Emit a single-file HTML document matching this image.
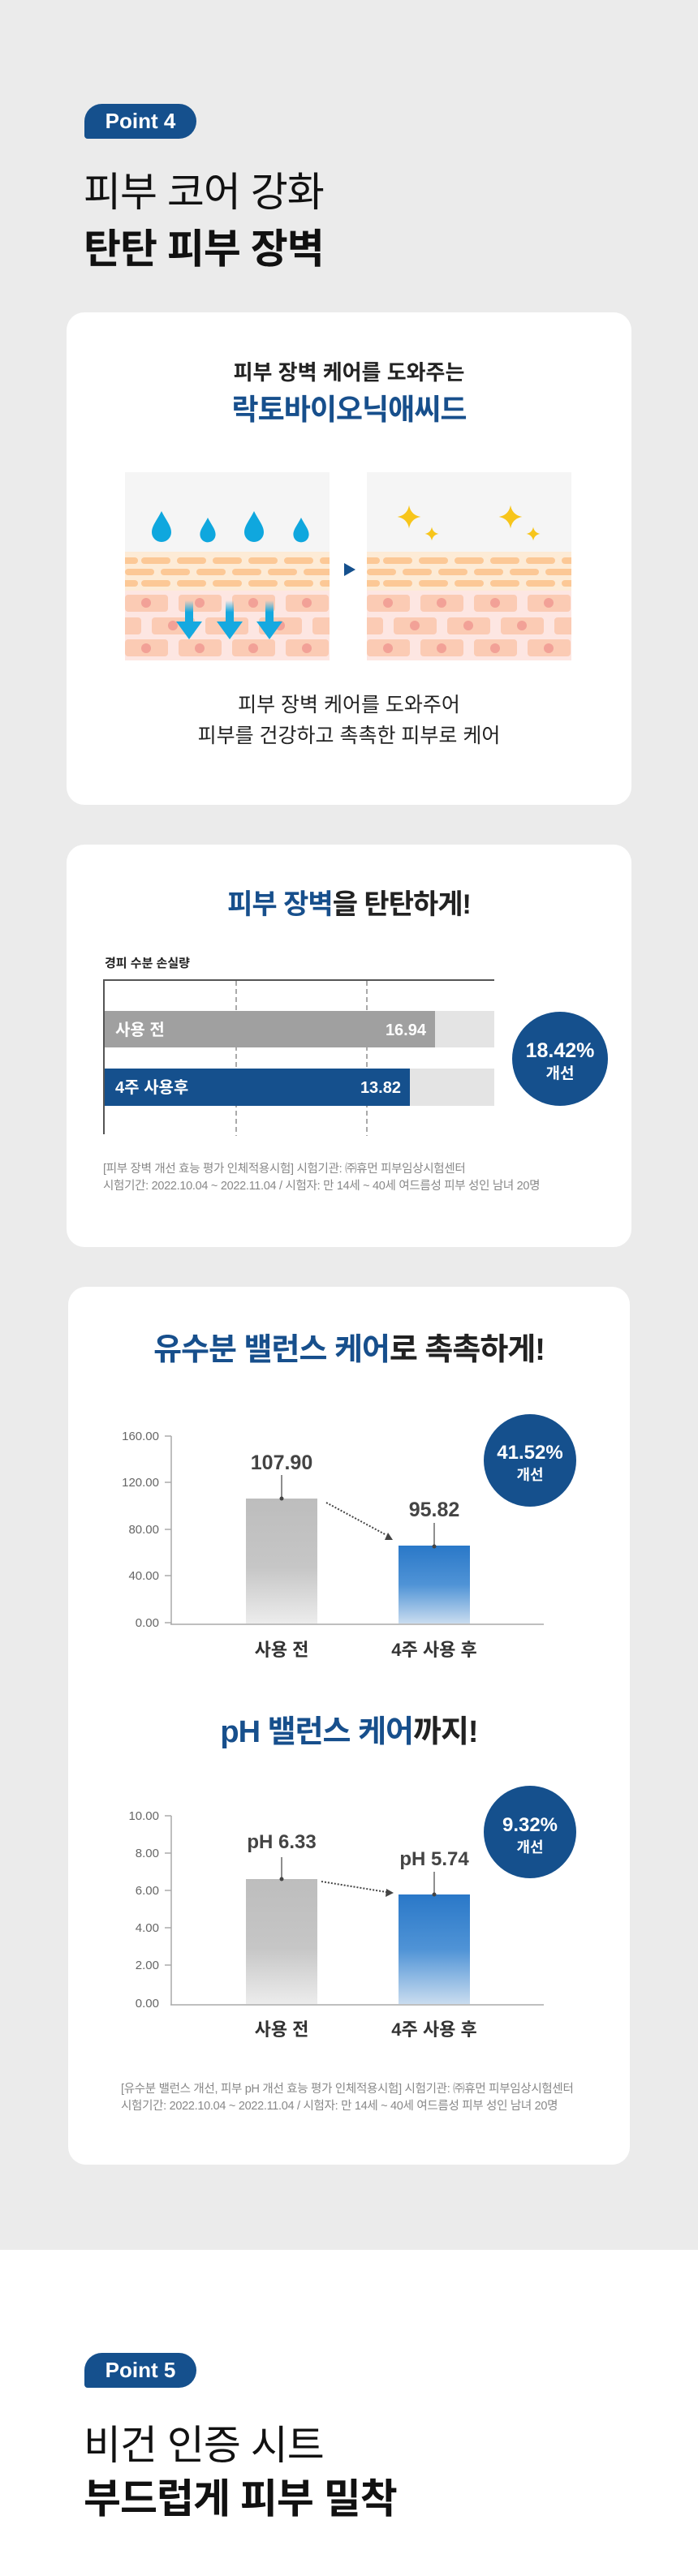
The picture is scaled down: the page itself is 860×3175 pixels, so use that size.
<!DOCTYPE html>
<html><head><meta charset="utf-8">
<style>
*{margin:0;padding:0;box-sizing:border-box}
body{width:860px;height:3175px;background:#fff;font-family:"Liberation Sans","Noto Sans CJK KR",sans-serif;position:relative;overflow:hidden;color:#111}
.gray{position:absolute;left:0;top:0;width:860px;height:2773px;background:#ebebeb}
.abs{position:absolute}
.badge{position:absolute;left:104px;width:138px;height:43px;background:#15508d;border-radius:22px 22px 22px 4px;color:#fff;font-weight:bold;font-size:26px;line-height:43px;text-align:center}
.h1{position:absolute;left:103px;font-size:50px;line-height:60px;letter-spacing:-1px;color:#111}
.card{position:absolute;background:#fff;border-radius:22px}
.c{position:absolute;left:0;width:100%;text-align:center}
.foot{position:absolute;font-size:14.5px;color:#888;line-height:21px;letter-spacing:-0.3px;white-space:nowrap}
</style></head><body>
<div class="gray"></div>

<div class="badge" style="top:128px">Point 4</div>
<div class="h1" style="top:207px">피부 코어 강화</div>
<div class="h1" style="top:277px;font-weight:bold">탄탄 피부 장벽</div>

<!-- card 1 -->
<div class="card" style="left:82px;top:385px;width:696px;height:607px">
  <div class="c" style="top:56px;font-size:26px;line-height:36px;font-weight:bold;color:#222">피부 장벽 케어를 도와주는</div>
  <div class="c" style="top:97px;font-size:36px;line-height:46px;font-weight:bold;color:#174f8c;letter-spacing:-1px">락토바이오닉애씨드</div>
  <div class="c" style="top:465px;font-size:25px;line-height:38px;color:#222">피부 장벽 케어를 도와주어<br>피부를 건강하고 촉촉한 피부로 케어</div>
</div>

<svg class="abs" style="left:154px;top:582px" width="552" height="232" viewBox="0 0 552 232">
<defs>
<clipPath id="cp"><rect x="0" y="0" width="252" height="232"/></clipPath>
<g id="skin"><g clip-path="url(#cp)">
 <rect x="0" y="0" width="252" height="232" fill="#f5f5f5"/>
 <rect x="0" y="98" width="252" height="48" fill="#fdebd6"/>
 <g fill="#fcc896">
  <rect x="-20" y="105" width="36" height="8" rx="4"/><rect x="20" y="105" width="36" height="8" rx="4"/><rect x="64" y="105" width="36" height="8" rx="4"/><rect x="108" y="105" width="36" height="8" rx="4"/><rect x="152" y="105" width="36" height="8" rx="4"/><rect x="196" y="105" width="36" height="8" rx="4"/><rect x="240" y="105" width="36" height="8" rx="4"/>
  <rect x="0" y="119" width="36" height="8" rx="4"/><rect x="44" y="119" width="36" height="8" rx="4"/><rect x="88" y="119" width="36" height="8" rx="4"/><rect x="132" y="119" width="36" height="8" rx="4"/><rect x="176" y="119" width="36" height="8" rx="4"/><rect x="220" y="119" width="36" height="8" rx="4"/>
  <rect x="-20" y="133" width="36" height="8" rx="4"/><rect x="20" y="133" width="36" height="8" rx="4"/><rect x="64" y="133" width="36" height="8" rx="4"/><rect x="108" y="133" width="36" height="8" rx="4"/><rect x="152" y="133" width="36" height="8" rx="4"/><rect x="196" y="133" width="36" height="8" rx="4"/><rect x="240" y="133" width="36" height="8" rx="4"/>
 </g>
 <rect x="0" y="146" width="252" height="86" fill="#fde6e2"/>
 <g fill="#fbcbb4">
  <rect x="0" y="151" width="53" height="21" rx="4"/><rect x="66" y="151" width="53" height="21" rx="4"/><rect x="132" y="151" width="53" height="21" rx="4"/><rect x="198" y="151" width="53" height="21" rx="4"/>
  <rect x="-33" y="179" width="53" height="21" rx="4"/><rect x="33" y="179" width="53" height="21" rx="4"/><rect x="99" y="179" width="53" height="21" rx="4"/><rect x="165" y="179" width="53" height="21" rx="4"/><rect x="231" y="179" width="53" height="21" rx="4"/>
  <rect x="0" y="206" width="53" height="21" rx="4"/><rect x="66" y="206" width="53" height="21" rx="4"/><rect x="132" y="206" width="53" height="21" rx="4"/><rect x="198" y="206" width="53" height="21" rx="4"/>
 </g>
 <g fill="#f2a197">
  <circle cx="26" cy="161" r="6"/><circle cx="92" cy="161" r="6"/><circle cx="158" cy="161" r="6"/><circle cx="224" cy="161" r="6"/>
  <circle cx="59" cy="189" r="6"/><circle cx="125" cy="189" r="6"/><circle cx="191" cy="189" r="6"/>
  <circle cx="26" cy="217" r="6"/><circle cx="92" cy="217" r="6"/><circle cx="158" cy="217" r="6"/><circle cx="224" cy="217" r="6"/>
 </g>
</g></g>
<linearGradient id="ar" x1="0" y1="0" x2="0" y2="1"><stop offset="0" stop-color="#15a9e0" stop-opacity="0"/><stop offset="0.3" stop-color="#15a9e0"/></linearGradient>
<path id="drop" d="M0,-20 C6,-8 12,-2 12,6 A12,12 0 0 1 -12,6 C-12,-2 -6,-8 0,-20Z" fill="#0fa7de"/>
<path id="arrow" d="M-5,0 H5 V26 H16 L0,48 L-16,26 H-5Z" fill="url(#ar)"/>
<path id="star" d="M0,-13 Q2,-2 13,0 Q2,2 0,13 Q-2,2 -13,0 Q-2,-2 0,-13Z" fill="#f7c51b"/>
</defs>
<use href="#skin"/>
<use href="#drop" transform="translate(45,68) scale(1.0)"/>
<use href="#drop" transform="translate(102,72) scale(0.8)"/>
<use href="#drop" transform="translate(159,68) scale(1.0)"/>
<use href="#drop" transform="translate(217,72) scale(0.8)"/>
<use href="#arrow" transform="translate(79,158)"/>
<use href="#arrow" transform="translate(129,158)"/>
<use href="#arrow" transform="translate(178,158)"/>
<path d="M270,112 L284,120 L270,128Z" fill="#15508d"/>
<g transform="translate(298,0)">
 <use href="#skin"/>
 <use href="#star" transform="translate(52,55) scale(1.1)"/>
 <use href="#star" transform="translate(80,76) scale(0.65)"/>
 <use href="#star" transform="translate(177,55) scale(1.1)"/>
 <use href="#star" transform="translate(205,76) scale(0.65)"/>
</g>
</svg>

<!-- card 2 -->
<div class="card" style="left:82px;top:1041px;width:696px;height:496px">
  <div class="c" style="top:52px;font-size:34px;line-height:44px;font-weight:bold;letter-spacing:-1px;color:#222"><span style="color:#174f8c">피부 장벽</span>을 탄탄하게!</div>
</div>
<div class="abs" style="left:129px;top:1176px;font-size:15px;font-weight:bold;color:#222">경피 수분 손실량</div>
<svg class="abs" style="left:120px;top:1200px" width="640" height="210" viewBox="120 1200 640 210">
 <line x1="128" y1="1208" x2="609" y2="1208" stroke="#555" stroke-width="2"/>
 <line x1="128" y1="1207" x2="128" y2="1398" stroke="#555" stroke-width="2"/>
 <line x1="291" y1="1209" x2="291" y2="1400" stroke="#555" stroke-dasharray="6,4"/>
 <line x1="452" y1="1209" x2="452" y2="1400" stroke="#555" stroke-dasharray="6,4"/>
 <rect x="129" y="1246" width="480" height="45" fill="#e4e4e4"/>
 <rect x="129" y="1246" width="407" height="45" fill="#a0a0a0"/>
 <rect x="129" y="1317" width="480" height="46" fill="#e4e4e4"/>
 <rect x="129" y="1317" width="376" height="46" fill="#15508d"/>
 <g font-family="Liberation Sans,Noto Sans CJK KR,sans-serif" font-weight="bold" font-size="20" fill="#fff">
  <text x="142" y="1276">사용 전</text>
  <text x="525" y="1276" text-anchor="end">16.94</text>
  <text x="142" y="1347">4주 사용후</text>
  <text x="494" y="1347" text-anchor="end">13.82</text>
 </g>
 <ellipse cx="690" cy="1305" rx="59" ry="58" fill="#15508d"/>
 <text x="690" y="1303" text-anchor="middle" font-family="Liberation Sans,sans-serif" font-weight="bold" font-size="25" fill="#fff">18.42%</text>
 <text x="690" y="1329" text-anchor="middle" font-family="Liberation Sans,Noto Sans CJK KR,sans-serif" font-weight="bold" font-size="19" fill="#fff">개선</text>
</svg>
<div class="foot" style="left:127px;top:1431px">[피부 장벽 개선 효능 평가 인체적용시험] 시험기관: ㈜휴먼 피부임상시험센터<br>시험기간: 2022.10.04 ~ 2022.11.04 / 시험자: 만 14세 ~ 40세 여드름성 피부 성인 남녀 20명</div>

<!-- card 3 -->
<div class="card" style="left:84px;top:1586px;width:692px;height:1082px">
  <div class="c" style="top:54px;font-size:38px;line-height:48px;font-weight:bold;letter-spacing:-1px;color:#222"><span style="color:#174f8c">유수분 밸런스 케어</span>로 촉촉하게!</div>
  <div class="c" style="top:525px;font-size:38px;line-height:48px;font-weight:bold;letter-spacing:-1px;color:#222"><span style="color:#174f8c">pH 밸런스 케어</span>까지!</div>
</div>
<svg class="abs" style="left:0;top:1700px" width="860" height="850" viewBox="0 1700 860 850">
<defs>
 <linearGradient id="gg" x1="0" y1="0" x2="0" y2="1"><stop offset="0" stop-color="#bdbdbd"/><stop offset="0.55" stop-color="#c6c6c6"/><stop offset="1" stop-color="#ececec"/></linearGradient>
 <linearGradient id="bg" x1="0" y1="0" x2="0" y2="1"><stop offset="0" stop-color="#2a78c8"/><stop offset="0.5" stop-color="#4f93d6"/><stop offset="1" stop-color="#c9dcef"/></linearGradient>
</defs>
<g font-family="Liberation Sans,sans-serif" font-size="15" fill="#666" text-anchor="end">
 <text x="196" y="1775">160.00</text><text x="196" y="1832">120.00</text><text x="196" y="1890">80.00</text><text x="196" y="1947">40.00</text><text x="196" y="2005">0.00</text>
</g>
<g stroke="#aaa" stroke-width="1.5">
 <line x1="211" y1="1770" x2="211" y2="2002"/><line x1="210" y1="2002" x2="670" y2="2002"/>
 <line x1="203" y1="1770" x2="211" y2="1770"/><line x1="203" y1="1827" x2="211" y2="1827"/><line x1="203" y1="1885" x2="211" y2="1885"/><line x1="203" y1="1942" x2="211" y2="1942"/><line x1="203" y1="2000" x2="211" y2="2000"/>
</g>
<rect x="303" y="1847" width="88" height="154" fill="url(#gg)"/>
<rect x="491" y="1905" width="88" height="96" fill="url(#bg)"/>
<g stroke="#444" stroke-width="1.2"><line x1="347" y1="1818" x2="347" y2="1847"/><line x1="535" y1="1877" x2="535" y2="1906"/></g>
<circle cx="347" cy="1847" r="2.5" fill="#444"/><circle cx="535" cy="1906" r="2.5" fill="#444"/>
<line x1="402" y1="1852" x2="476" y2="1892" stroke="#444" stroke-width="2" stroke-dasharray="2,2"/>
<path d="M484,1898 L474,1898 L478,1889Z" fill="#444"/>
<g font-family="Liberation Sans,sans-serif" font-weight="bold" font-size="25" fill="#444" text-anchor="middle">
 <text x="347" y="1811">107.90</text><text x="535" y="1869">95.82</text>
</g>
<g font-family="Liberation Sans,Noto Sans CJK KR,sans-serif" font-weight="bold" font-size="22" fill="#333" text-anchor="middle">
 <text x="347" y="2041">사용 전</text><text x="535" y="2041">4주 사용 후</text>
</g>
<ellipse cx="653" cy="1800" rx="57" ry="57" fill="#15508d"/>
<text x="653" y="1798" text-anchor="middle" font-family="Liberation Sans,sans-serif" font-weight="bold" font-size="24" fill="#fff">41.52%</text>
<text x="653" y="1824" text-anchor="middle" font-family="Liberation Sans,Noto Sans CJK KR,sans-serif" font-weight="bold" font-size="18" fill="#fff">개선</text>

<g font-family="Liberation Sans,sans-serif" font-size="15" fill="#666" text-anchor="end">
 <text x="196" y="2243">10.00</text><text x="196" y="2289">8.00</text><text x="196" y="2335">6.00</text><text x="196" y="2381">4.00</text><text x="196" y="2427">2.00</text><text x="196" y="2474">0.00</text>
</g>
<g stroke="#aaa" stroke-width="1.5">
 <line x1="211" y1="2238" x2="211" y2="2471"/><line x1="210" y1="2471" x2="670" y2="2471"/>
 <line x1="203" y1="2238" x2="211" y2="2238"/><line x1="203" y1="2284" x2="211" y2="2284"/><line x1="203" y1="2330" x2="211" y2="2330"/><line x1="203" y1="2376" x2="211" y2="2376"/><line x1="203" y1="2422" x2="211" y2="2422"/>
</g>
<rect x="303" y="2316" width="88" height="154" fill="url(#gg)"/>
<rect x="491" y="2335" width="88" height="135" fill="url(#bg)"/>
<g stroke="#444" stroke-width="1.2"><line x1="347" y1="2289" x2="347" y2="2316"/><line x1="535" y1="2307" x2="535" y2="2335"/></g>
<circle cx="347" cy="2316" r="2.5" fill="#444"/><circle cx="535" cy="2335" r="2.5" fill="#444"/>
<line x1="396" y1="2319" x2="476" y2="2332" stroke="#444" stroke-width="2" stroke-dasharray="2,2"/>
<path d="M485,2333 L475,2338 L476,2328Z" fill="#444"/>
<g font-family="Liberation Sans,sans-serif" font-weight="bold" font-size="24" fill="#444" text-anchor="middle">
 <text x="347" y="2278">pH 6.33</text><text x="535" y="2299">pH 5.74</text>
</g>
<g font-family="Liberation Sans,Noto Sans CJK KR,sans-serif" font-weight="bold" font-size="22" fill="#333" text-anchor="middle">
 <text x="347" y="2509">사용 전</text><text x="535" y="2509">4주 사용 후</text>
</g>
<ellipse cx="653" cy="2258" rx="57" ry="57" fill="#15508d"/>
<text x="653" y="2257" text-anchor="middle" font-family="Liberation Sans,sans-serif" font-weight="bold" font-size="24" fill="#fff">9.32%</text>
<text x="653" y="2283" text-anchor="middle" font-family="Liberation Sans,Noto Sans CJK KR,sans-serif" font-weight="bold" font-size="18" fill="#fff">개선</text>
</svg>
<div class="foot" style="left:149px;top:2565px">[유수분 밸런스 개선, 피부 pH 개선 효능 평가 인체적용시험] 시험기관: ㈜휴먼 피부임상시험센터<br>시험기간: 2022.10.04 ~ 2022.11.04 / 시험자: 만 14세 ~ 40세 여드름성 피부 성인 남녀 20명</div>

<div class="badge" style="top:2900px">Point 5</div>
<div class="h1" style="top:2984px">비건 인증 시트</div>
<div class="h1" style="top:3050px;font-weight:bold">부드럽게 피부 밀착</div>
</body></html>
